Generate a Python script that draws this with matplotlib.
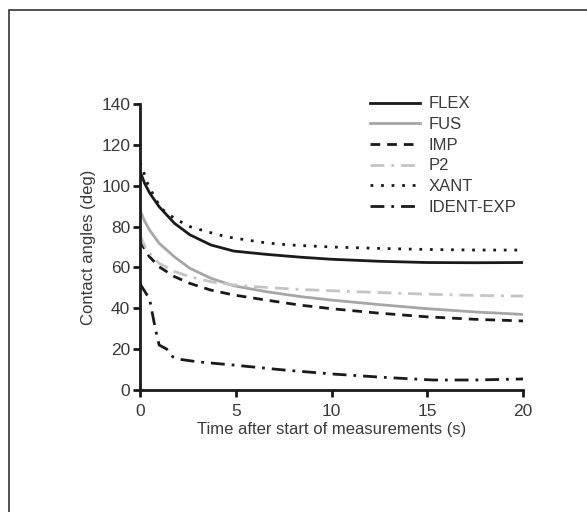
import numpy as np
import matplotlib
matplotlib.use("Agg")
import matplotlib.pyplot as plt
from matplotlib.patches import Rectangle

plt.rcParams['font.family'] = ['Liberation Sans', 'DejaVu Sans']

# contact angle vs time
t_flex = [0, 0.25, 0.5, 1, 1.8, 2.6, 3.7, 4.9, 6.6, 8.4, 10, 12.5, 15, 17.5, 20]
flex = [107, 101, 96.5, 89.7, 81.6, 76, 71, 68, 66.4, 65, 64, 63, 62.4, 62.3, 62.4]

t_fus = [0, 0.25, 0.5, 1, 1.8, 2.6, 3.7, 4.9, 6.6, 8.4, 10, 12.5, 15, 17.5, 20]
fus = [88, 82.5, 78.3, 71.8, 65.2, 59.6, 54.7, 51, 48.1, 45.7, 44, 41.8, 39.8, 38.2, 37]

t_imp = [0, 0.25, 0.5, 1, 1.8, 2.6, 3.7, 4.9, 6.6, 8.4, 10, 12.5, 15, 17.5, 20]
imp = [73.4, 68.8, 65.2, 60.3, 55.5, 52.2, 48.9, 46.5, 44, 41.5, 39.8, 37.6, 35.8, 34.6, 33.8]

t_p2 = [0, 0.25, 0.5, 1, 1.8, 2.6, 3.7, 4.9, 6.6, 8.4, 10, 12.5, 15, 17.5, 20]
p2 = [75.9, 70.5, 66.9, 62, 58, 55.5, 53, 51.4, 50.2, 49.2, 48.6, 47.7, 46.9, 46.3, 46]

t_xant = [0, 0.15, 0.35, 0.7, 1.1, 1.8, 2.6, 3.5, 4.5, 5.6, 6.6, 7.8, 10, 12.5, 15, 17.5, 20]
xant = [111.5, 108, 102, 95.4, 88.9, 84, 80, 77.5, 75, 73.4, 72, 71, 70, 69.3, 68.8, 68.5, 68.5]

t_ident = [0, 0.3, 0.5, 0.8, 1.0, 1.4, 1.7, 2.1, 3, 4.9, 7.5, 10.1, 12.7, 15.3, 17.5, 20]
ident = [52, 47.5, 44.5, 30, 22, 20, 16.3, 15, 13.8, 12.2, 9.8, 7.8, 6.2, 4.9, 4.9, 5.4]

fig = plt.figure(figsize=(5.87, 5.12), dpi=100)
fig.patches.append(Rectangle((9 / 587, -0.1), 1.2, 1 - 10 / 512 + 0.1,
                             transform=fig.transFigure, fill=False,
                             edgecolor='#333333', linewidth=1.2))

ax = fig.add_axes([140 / 587, 1 - 390 / 512, 383 / 587, 286 / 512])
lw = 2
ax.plot(t_flex, flex, color='#1a1a1a', lw=lw, label='FLEX')
ax.plot(t_fus, fus, color='#a6a6a6', lw=lw, label='FUS')
ax.plot(t_imp, imp, color='#1a1a1a', lw=lw, ls=(0, (3.5, 2.5)), label='IMP')
ax.plot(t_p2, p2, color='#c4c4c4', lw=lw, ls=(0, (5, 2.5, 1, 2.5, 5, 2.5)), label='P2')
ax.plot(t_xant, xant, color='#1a1a1a', lw=lw, ls=(0, (1, 2.8)), label='XANT')
ax.plot(t_ident, ident, color='#1a1a1a', lw=lw, ls=(0, (5, 2.5, 1, 2.5)), label='IDENT-EXP')

ax.set_xlim(0, 20)
ax.set_ylim(0, 140)
ax.set_xticks([0, 5, 10, 15, 20])
ax.set_yticks(range(0, 141, 20))
for s in ['top', 'right']:
    ax.spines[s].set_visible(False)
for s in ['left', 'bottom']:
    ax.spines[s].set_linewidth(2)
    ax.spines[s].set_color('#1a1a1a')
ax.tick_params(direction='out', length=5, width=2, color='#1a1a1a',
               labelsize=12.5, labelcolor='#3a3a3a', pad=2)
ax.tick_params(axis='x', pad=5)
ax.set_xlabel('Time after start of measurements (s)', fontsize=12, color='#3a3a3a', labelpad=2)
ax.set_ylabel('Contact angles (deg)', fontsize=12, color='#3a3a3a', labelpad=4)

leg = ax.legend(loc='upper right', bbox_to_anchor=(1.0, 1.05), frameon=False,
                fontsize=12, handlelength=3.05, handletextpad=0.48,
                labelspacing=0.34, borderaxespad=0)
for txt in leg.get_texts():
    txt.set_color('#3a3a3a')

fig.savefig('out.png', dpi=100)
